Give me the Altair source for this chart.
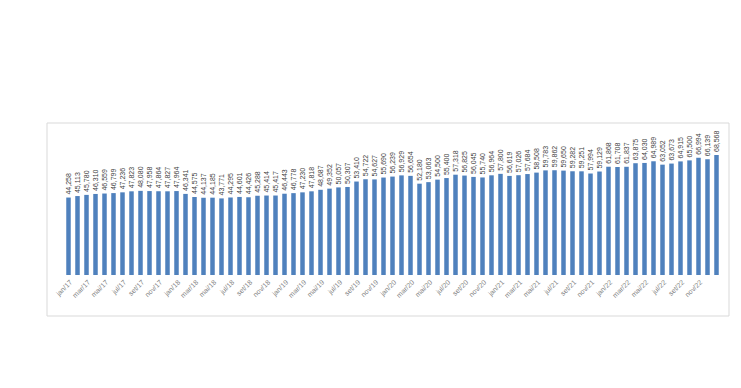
import altair as alt
import pandas as pd

months_pt = ["jan", "fev", "mar", "abr", "mai", "jun", "jul", "ago", "set", "out", "nov", "dez"]
years = ["17", "18", "19", "20", "21", "22", "23"]
categories = [f"{m}/{y}" for y in years for m in months_pt][:73]

values = [
    44258, 45113, 45780, 46310, 46559, 46799, 47236, 47823, 48080, 47958, 47864, 47827,
    47964, 46341, 44575, 44137, 44185, 43771, 44295, 44601, 44426, 45288, 45414, 45417,
    46443, 46778, 47230, 47818, 48687, 49352, 50057, 50307, 53410, 54722, 54627, 55690,
    56239, 56929, 56654, 52180, 53063, 54500, 55400, 57318, 56825, 56045, 55740, 56964,
    57800, 56619, 57026, 57684, 58508, 59783, 59862, 59650, 59282, 59251, 57994, 59129,
    61868, 61708, 61837, 63875, 64030, 64989, 63052, 63673, 64915, 65500, 66994, 66139,
    68568,
]

tick_labels = categories[:72:2]

df = pd.DataFrame({"mes": categories, "valor": values})

W, H = 657, 140

x = alt.X(
    "mes:N",
    sort=categories,
    scale=alt.Scale(paddingInner=0.5, paddingOuter=0.25),
    axis=alt.Axis(
        title=None,
        values=tick_labels,
        labelAngle=-45,
        labelFontSize=7,
        labelColor="#7f7f7f",
        labelFont="Liberation Sans",
        labelPadding=3,
        ticks=False,
        domain=False,
        grid=False,
        zindex=1,
    ),
)
y = alt.Y("valor:Q", scale=alt.Scale(domain=[0, 80000]), axis=None)

bars = alt.Chart(df).mark_bar(color="#4F81BD").encode(x=x, y=y)

labels = alt.Chart(df).mark_text(
    angle=270,
    align="left",
    baseline="middle",
    dx=3,
    fontSize=7,
    font="Liberation Sans",
    color="#404040",
).encode(x=x, y=y, text=alt.Text("valor:Q", format=",.0f"))

border = alt.Chart(alt.Data(values=[{}])).mark_rect(
    fillOpacity=0, stroke="#d9d9d9", strokeWidth=1
).encode(
    x=alt.value(-17), x2=alt.value(665), y=alt.value(-12), y2=alt.value(181)
)

chart = alt.layer(border, bars, labels).properties(
    width=W,
    height=H,
    autosize=alt.AutoSizeParams(type="none"),
    padding={"left": 56, "top": 127, "right": 12, "bottom": 60},
    background="white",
).configure_view(stroke=None)

chart.save("out.html", embed_options={"renderer": "svg", "actions": False})
